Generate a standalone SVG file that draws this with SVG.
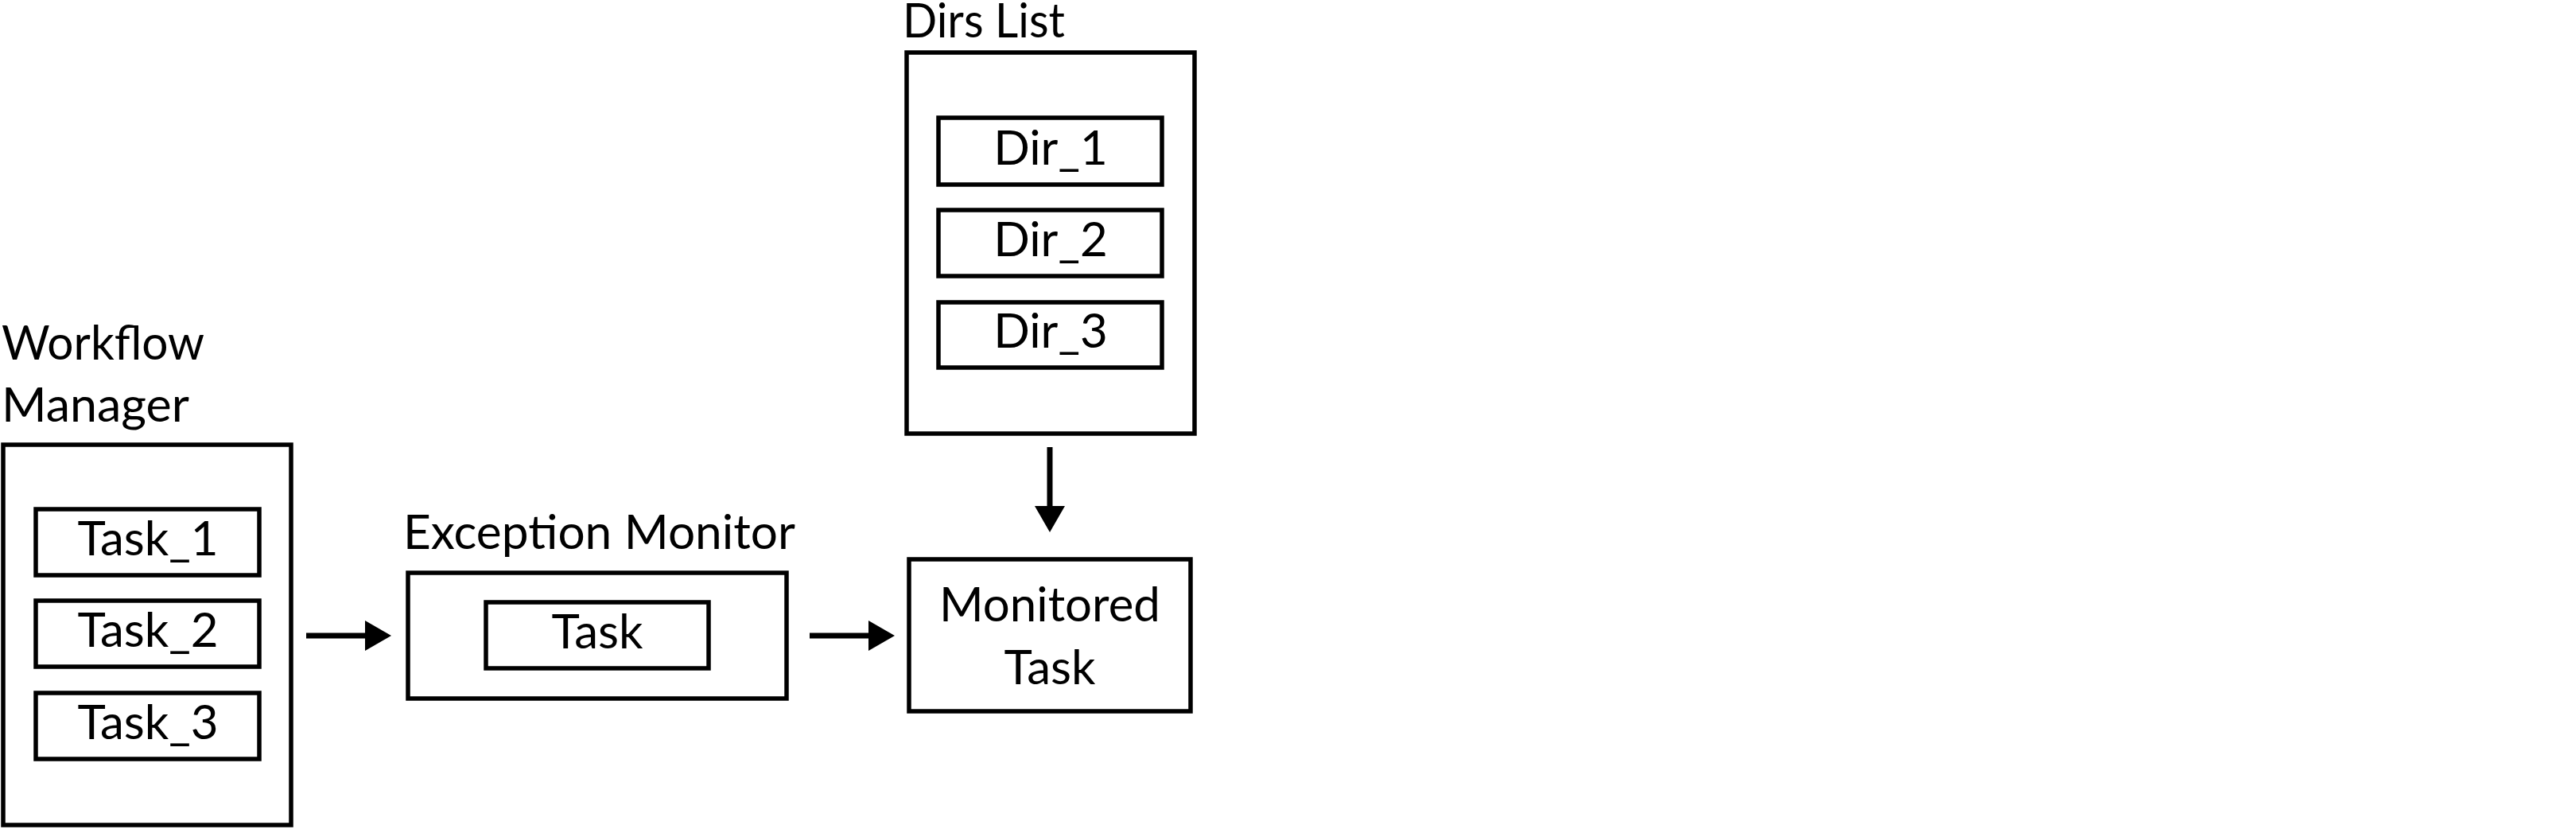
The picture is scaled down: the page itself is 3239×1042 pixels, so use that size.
<svg xmlns="http://www.w3.org/2000/svg" width="3239" height="1042" viewBox="0 0 3239 1042">
  <style>
    .box { fill: #ffffff; stroke: #000000; stroke-width: 5.5; }
    .lbl { font-family: Lato, "Liberation Sans", sans-serif; font-size: 60px; fill: #000000; }
    .mid { text-anchor: middle; }
    .conn { stroke: #000000; stroke-width: 7; fill: none; }
  </style>
  <defs>
    <marker id="arrow" markerUnits="userSpaceOnUse" markerWidth="34" markerHeight="40" refX="0" refY="19" orient="auto">
      <path d="M0,0 L33,19 L0,38 Z" fill="#000000"/>
    </marker>
  </defs>
  <rect x="0" y="0" width="3239" height="1042" fill="#ffffff"/>

  <g id="workflow-manager">
    <text class="lbl" x="2" y="452" textLength="255" lengthAdjust="spacingAndGlyphs">Workflow</text>
    <text class="lbl" x="2" y="530" textLength="236" lengthAdjust="spacingAndGlyphs">Manager</text>
    <rect class="box" x="4" y="559" width="362" height="478"/>
    <g id="task-1">
      <rect class="box" x="45" y="640" width="281" height="83"/>
      <text class="lbl mid" x="186" y="698">Task_1</text>
    </g>
    <g id="task-2">
      <rect class="box" x="45" y="755" width="281" height="83"/>
      <text class="lbl mid" x="186" y="813">Task_2</text>
    </g>
    <g id="task-3">
      <rect class="box" x="45" y="871" width="281" height="83"/>
      <text class="lbl mid" x="186" y="929">Task_3</text>
    </g>
  </g>

  <g id="exception-monitor">
    <text class="lbl" x="507" y="690" textLength="493" lengthAdjust="spacingAndGlyphs">Exception Monitor</text>
    <rect class="box" x="513" y="720" width="476" height="158"/>
    <g id="em-task">
      <rect class="box" x="611" y="757" width="280" height="83"/>
      <text class="lbl mid" x="751" y="815">Task</text>
    </g>
  </g>

  <g id="dirs-list">
    <text class="lbl" x="1135" y="47" textLength="204" lengthAdjust="spacingAndGlyphs">Dirs List</text>
    <rect class="box" x="1140" y="66" width="362" height="479"/>
    <g id="dir-1">
      <rect class="box" x="1180" y="148" width="281" height="84"/>
      <text class="lbl mid" x="1321" y="207">Dir_1</text>
    </g>
    <g id="dir-2">
      <rect class="box" x="1180" y="264" width="281" height="83"/>
      <text class="lbl mid" x="1321" y="322">Dir_2</text>
    </g>
    <g id="dir-3">
      <rect class="box" x="1180" y="380" width="281" height="82"/>
      <text class="lbl mid" x="1321" y="437">Dir_3</text>
    </g>
  </g>

  <g id="monitored-task">
    <rect class="box" x="1143" y="703" width="354" height="191"/>
    <text class="lbl mid" x="1320" y="781">Monitored</text>
    <text class="lbl mid" x="1320" y="860">Task</text>
  </g>

  <g id="connectors">
    <line class="conn" x1="385" y1="799" x2="459" y2="799" marker-end="url(#arrow)"/>
    <line class="conn" x1="1018" y1="799" x2="1092" y2="799" marker-end="url(#arrow)"/>
    <line class="conn" x1="1320" y1="562" x2="1320" y2="636" marker-end="url(#arrow)"/>
  </g>
</svg>
